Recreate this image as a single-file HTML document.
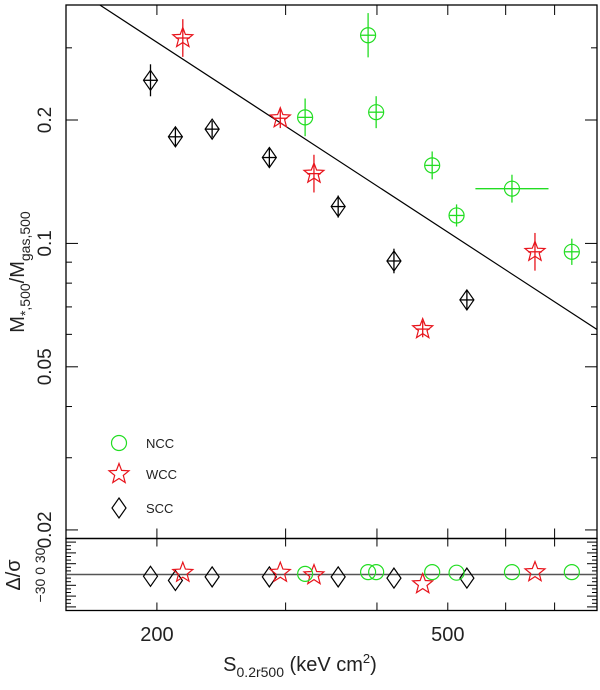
<!DOCTYPE html>
<html><head><meta charset="utf-8"><style>
body{margin:0;background:#fff}
svg{display:block;font-family:"Liberation Sans",sans-serif}
</style></head><body>
<svg id="chart" width="600" height="690" viewBox="0 0 600 690"></svg>
<script>
// ---- data ----
const sccX=[196,212,238,285,354,422,531];
const sccY=[0.250,0.182,0.190,0.162,0.123,0.0906,0.0728];
const sccErr=[0.039,0.024,0.02,0.022,0.027,0.03,0.024];
const sccRes=[-0.3,-1.0,-0.4,-0.4,-0.4,-0.6,-0.6];
const wccX=[217,295,328,462,658];
const wccY=[0.317,0.202,0.148,0.0618,0.0954];
const wccErr=[0.046,0.024,0.046,0.02,0.046];
const wccRes=[0.3,0.3,-0.1,-1.6,0.4];
const nccX=[319,389,399,476,514,612,739];
const nccY=[0.203,0.322,0.209,0.155,0.117,0.136,0.0954];
const nccErr=[0.046,0.054,0.039,0.034,0.027,0.034,0.032];
const nccXErr=[0,0,0,0,0,0.05,0];
const nccRes=[0.1,0.4,0.4,0.4,0.3,0.4,0.4];
const fitA=Math.log10(0.3816)+1.164*Math.log10(167.1), fitB=-1.164;
const fitRange=[167.1,800];
const xTicks=[200,300,400,500,600,700,800];
const xLabels=[200,500];
const yMajor=[0.02,0.05,0.1,0.2];
const yMinor=[0.03,0.04,0.06,0.07,0.08,0.09,0.3];
// ---- axes ----
const L=66,R=597,T=5,B=538.5,RB=610.5,R0=574.5;
const x0=Math.log10(150.2),x1=Math.log10(800);
const y0=Math.log10(0.01906),y1=Math.log10(0.3816);
const sx=v=>L+(Math.log10(v)-x0)/(x1-x0)*(R-L);
const sy=v=>B-(Math.log10(v)-y0)/(y1-y0)*(B-T);
const sr=v=>R0-v*6;
const svg=document.getElementById('chart');
const NS='http://www.w3.org/2000/svg';
function mk(tag,at,parent){const e=document.createElementNS(NS,tag);for(const k in at)e.setAttribute(k,at[k]);(parent||svg).appendChild(e);return e;}
function line(x1_,y1_,x2_,y2_,c,w,p){return mk('line',{x1:x1_,y1:y1_,x2:x2_,y2:y2_,stroke:c,'stroke-width':w||1},p);}
const defs=mk('defs',{});
const cp=mk('clipPath',{id:'plotclip'},defs);
mk('rect',{x:L,y:T,width:R-L,height:B-T},cp);
// frames
let f=mk('rect',{x:L,y:T,width:R-L,height:B-T,fill:'none',stroke:'#000','stroke-width':1.3});


f=mk('rect',{x:L,y:B,width:R-L,height:RB-B,fill:'none',stroke:'#000','stroke-width':1.3});


// x ticks
xTicks.forEach(v=>{const x=sx(v);
 line(x,T,x,T+10,'#000');line(x,B,x,B-10,'#000');line(x,B,x,B+8,'#000');line(x,RB,x,RB-8,'#000');});
xLabels.forEach(v=>{const t=mk('text',{x:sx(v),y:641,'font-size':20,'text-anchor':'middle',fill:'#222'});t.textContent=v;
 
 });
// y ticks
yMajor.forEach(v=>{const y=sy(v);line(L,y,L+12,y,'#000');line(R,y,R-12,y,'#000');
 const t=mk('text',{x:0,y:0,'font-size':19,'text-anchor':'middle',fill:'#222',transform:`translate(51,${y}) rotate(-90)`});t.textContent=v;
 
 });
yMinor.forEach(v=>{const y=sy(v);line(L,y,L+6,y,'#000');line(R,y,R-6,y,'#000');});
// residual ticks
for(let k=-9;k<=9;k++){const y=R0-k*3.6;if(y<=B+1||y>=RB-1)continue;const len=(k%3===0)?10:5;line(L,y,L+len,y,'#000');line(R,y,R-len,y,'#000');}
line(L,R0,R,R0,'#555',1.5);
// fit line
const fl=line(sx(fitRange[0]),sy(Math.pow(10,fitA+fitB*Math.log10(fitRange[0]))),sx(fitRange[1]),sy(Math.pow(10,fitA+fitB*Math.log10(fitRange[1]))),'#000',1.2);
fl.setAttribute('clip-path','url(#plotclip)');


// markers
function diamond(x,y,c,p){return mk('path',{d:`M${x} ${y-10}L${x+7} ${y}L${x} ${y+10}L${x-7} ${y}Z`,fill:'none',stroke:c,'stroke-width':1.2},p);}
function circle(x,y,c,p){return mk('circle',{cx:x,cy:y,r:7.5,fill:'none',stroke:c,'stroke-width':1.2},p);}
function star(x,y,c,p){let d='';for(let i=0;i<10;i++){const r=i%2?4.5:10.5,a=-Math.PI/2+i*Math.PI/5;d+=(i?'L':'M')+(x+r*Math.cos(a)).toFixed(1)+' '+(y+r*Math.sin(a)).toFixed(1);}return mk('path',{d:d+'Z',fill:'none',stroke:c,'stroke-width':1.2},p);}
function series(xs,ys,es,xes,res,fn,c,name){
 xs.forEach((v,i)=>{const g=mk('g',{});
  
  
  const x=sx(v),y=sy(ys[i]),e=es[i]*(B-T)/(y1-y0);
  line(x,y-e,x,y+e,c,1.3,g);
  const xe=(xes?xes[i]:0)*(R-L)/(x1-x0);
  line(x-Math.max(xe,7),y,x+Math.max(xe,7),y,c,1.3,g);
  fn(x,y,c,g);
  const r=mk('g',{});
  
  
  fn(x,sr(res[i]),c,r);});
}
series(sccX,sccY,sccErr,null,sccRes,diamond,'#000','scc');
series(wccX,wccY,wccErr,null,wccRes,star,'#e8141c','wcc');
series(nccX,nccY,nccErr,nccXErr,nccRes,circle,'#22dd22','ncc');
// legend
[['NCC',circle,'#22dd22',443],['WCC',star,'#e8141c',474],['SCC',diamond,'#000',508]].forEach(([n,fn,c,y])=>{
 const g=mk('g',{});
 
 
 fn(119,y,c,g);const t=mk('text',{x:146,y:y+5,'font-size':13,fill:'#222'},g);t.textContent=n;});
// axis titles
let t=mk('text',{x:0,y:0,'font-size':20,'text-anchor':'middle',fill:'#222',transform:'translate(24,272) rotate(-90)'});
t.innerHTML='M<tspan font-size="14" dy="6">*,500</tspan><tspan dy="-6">/M</tspan><tspan font-size="14" dy="6">gas,500</tspan>';


t=mk('text',{x:0,y:0,'font-size':20,'text-anchor':'middle',fill:'#222',transform:'translate(20,575) rotate(-90)'});t.textContent='Δ/σ';


t=mk('text',{x:0,y:0,'font-size':14,'text-anchor':'middle',fill:'#222',transform:'translate(45,575) rotate(-90)'});t.textContent='−30 0 30';


t=mk('text',{x:300,y:671,'font-size':20,'text-anchor':'middle',fill:'#222'});
t.innerHTML='S<tspan font-size="14" dy="6">0.2r500</tspan><tspan dy="-6"> (keV cm</tspan><tspan font-size="13" dy="-8">2</tspan><tspan dy="8">)</tspan>';


</script>
</body></html>
